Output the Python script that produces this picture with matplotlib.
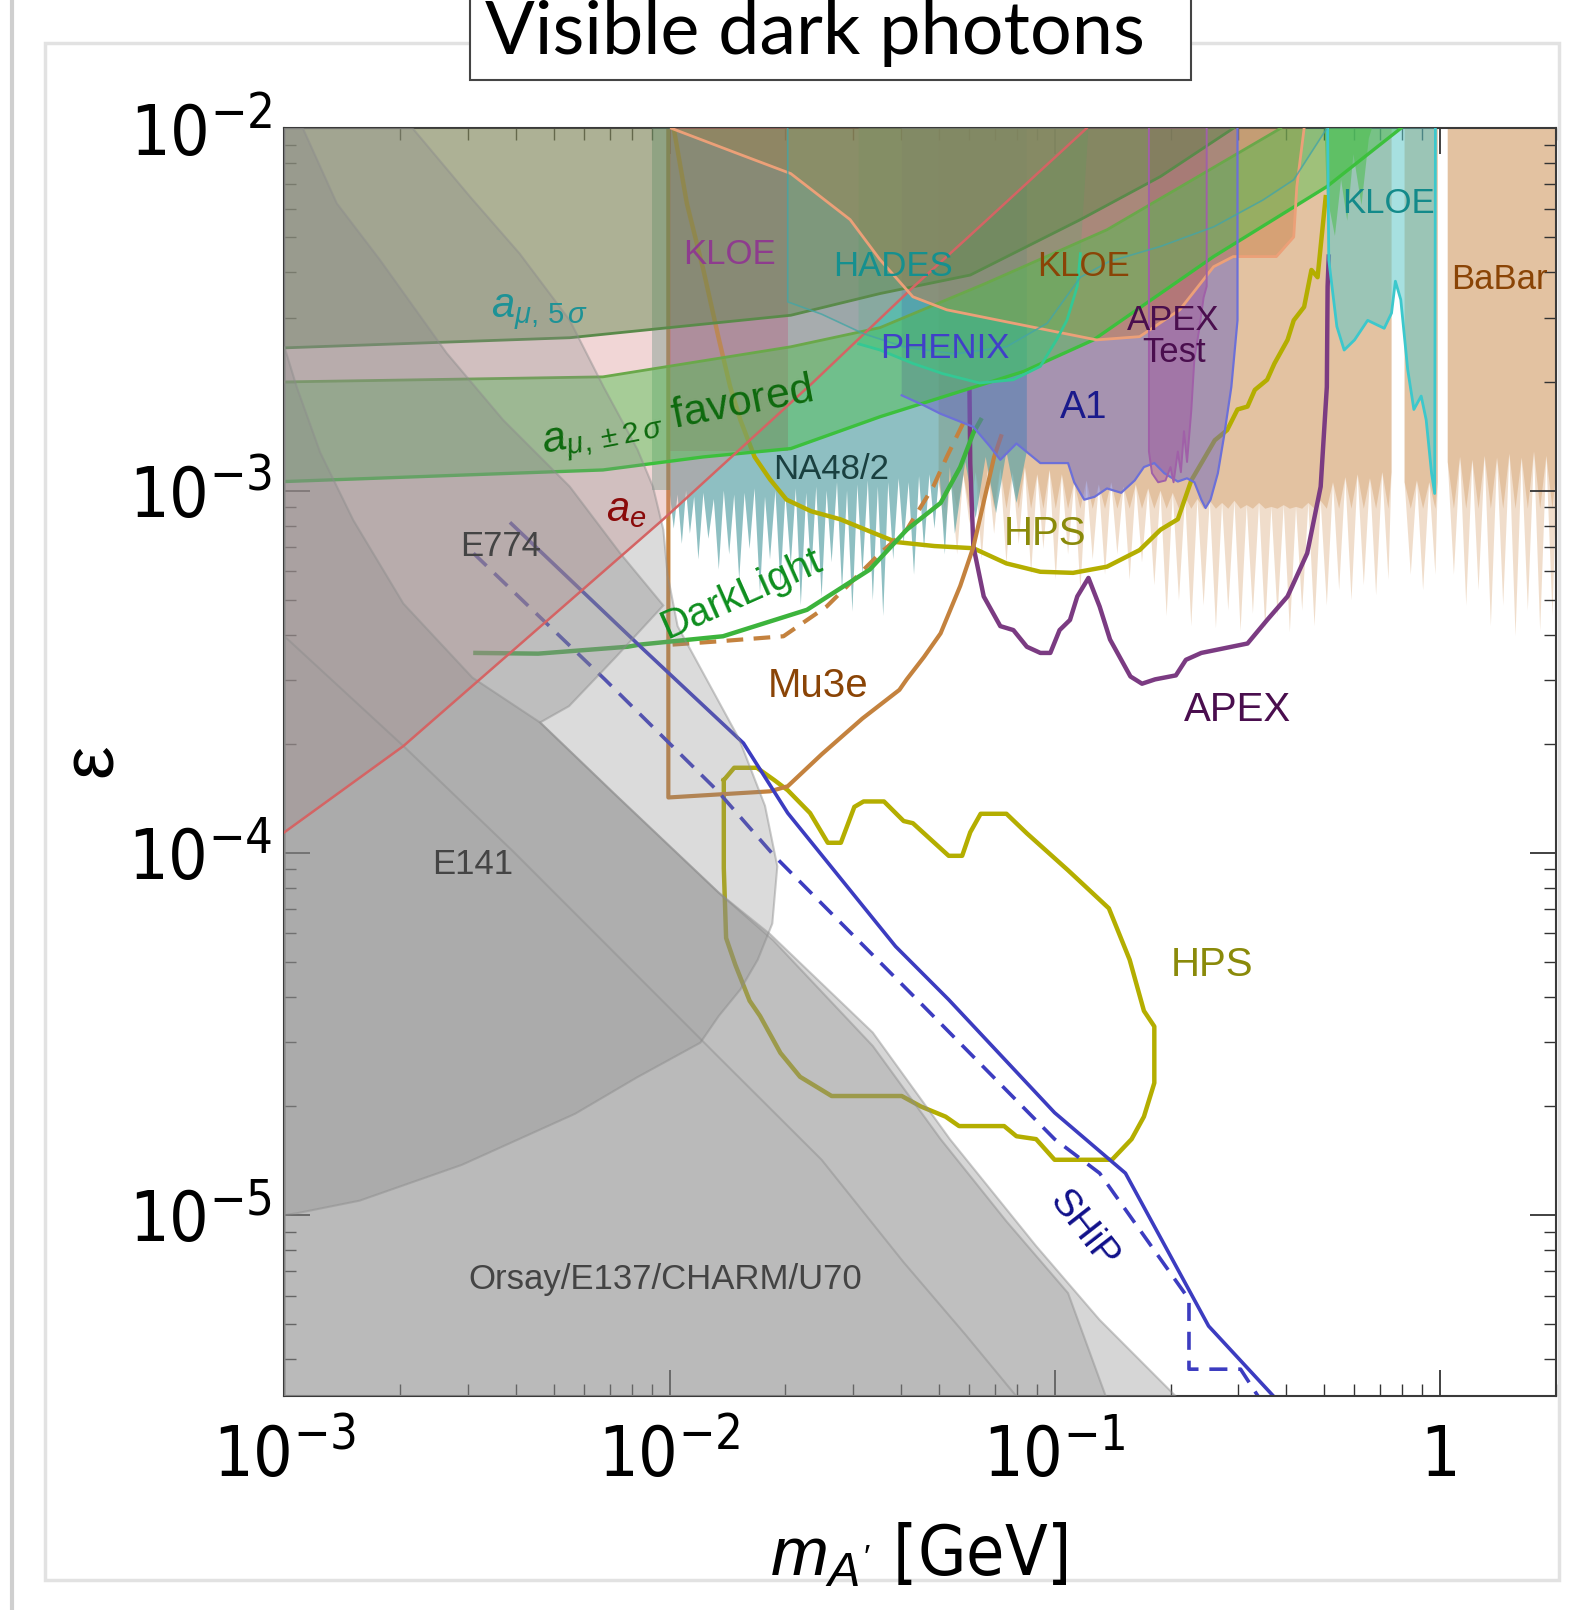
import numpy as np
import matplotlib
matplotlib.use("Agg")
import matplotlib.pyplot as plt
from matplotlib.ticker import LogLocator, NullFormatter
from matplotlib.patches import Rectangle
from matplotlib.lines import Line2D
from matplotlib.font_manager import FontProperties
from matplotlib import font_manager

# all values below are log10(m_A' / GeV) and log10(epsilon)

# a_e exclusion boundary
ae_logm = [-3.000, -2.691, -2.016, -1.629, -1.365, -1.224, -0.917]
ae_loge = [-3.943, -3.705, -3.079, -2.703, -2.436, -2.300, -2.000]

# a_mu 5 sigma and +-2 sigma band
amu5_logm = [-3.000, -2.259, -1.685, -1.453, -1.219, -0.933, -0.725, -0.536]
amu5_loge = [-2.606, -2.578, -2.516, -2.456, -2.405, -2.252, -2.133, -2.000]
amu2hi_logm = [-3.000, -2.173, -1.685, -1.453, -1.179, -0.864, -0.645, -0.413]
amu2hi_loge = [-2.700, -2.686, -2.603, -2.550, -2.428, -2.280, -2.144, -2.000]
amu2lo_logm = [-3.000, -2.173, -1.912, -1.685, -1.453, -1.080, -0.899, -0.587, -0.293, -0.101]
amu2lo_loge = [-2.975, -2.943, -2.907, -2.884, -2.796, -2.671, -2.584, -2.354, -2.161, -2.000]

# KLOE (purple, low mass box)
kloe_p_logm = [-2.000, -1.693]
kloe_p_loge_low = -2.890

# KLOE (brown)
kloe_logm = [-1.995, -1.827, -1.685, -1.531, -1.453, -1.368, -1.280, -1.107, -0.891, -0.779,
             -0.675, -0.587, -0.536, -0.424, -0.379, -0.371, -0.352]
kloe_loge = [-2.000, -2.068, -2.125, -2.252, -2.363, -2.465, -2.501, -2.538, -2.584, -2.575,
             -2.501, -2.382, -2.354, -2.354, -2.300, -2.161, -2.000]

# HADES
hades_logm = [-1.693, -1.693, -1.605, -1.496, -1.392, -1.259, -1.125, -1.019, -0.933, -0.859,
              -0.725, -0.587, -0.459, -0.379, -0.293]
hades_loge = [-2.000, -2.479, -2.513, -2.567, -2.603, -2.623, -2.603, -2.538, -2.411, -2.368,
              -2.326, -2.272, -2.198, -2.142, -2.000]

# PHENIX
phenix_logm = [-1.509, -1.509, -1.453, -1.368, -1.291, -1.195, -1.107, -1.037, -0.995, -0.968,
               -0.941, -0.933, -0.912]
phenix_loge = [-2.000, -2.595, -2.612, -2.649, -2.677, -2.703, -2.694, -2.657, -2.584, -2.530,
               -2.436, -2.346, -2.000]

# A1
a1_logm = [-1.397, -1.397, -1.339, -1.296, -1.211, -1.168, -1.141, -1.099, -1.037, -0.965,
           -0.949, -0.923, -0.896, -0.864, -0.827, -0.792, -0.768, -0.741, -0.715, -0.680,
           -0.656, -0.637, -0.619, -0.608, -0.595, -0.576, -0.560, -0.541, -0.525, -0.525]
a1_loge = [-2.000, -2.737, -2.765, -2.788, -2.824, -2.878, -2.915, -2.870, -2.924, -2.924,
           -2.977, -3.025, -3.017, -2.994, -3.006, -2.972, -2.935, -2.924, -2.952, -2.975,
           -2.966, -2.977, -3.025, -3.048, -3.025, -2.952, -2.850, -2.714, -2.530, -2.000]

# APEX test run
apext_logm = [-0.755, -0.755, -0.747, -0.731, -0.712, -0.699, -0.691, -0.680, -0.672, -0.664,
              -0.656, -0.645, -0.637, -0.624, -0.613, -0.605, -0.605]
apext_loge = [-2.000, -2.892, -2.952, -2.977, -2.972, -2.935, -2.977, -2.892, -2.949, -2.836,
              -2.921, -2.779, -2.637, -2.552, -2.467, -2.436, -2.000]

# KLOE (teal, high mass)
kloe2_logm = [-0.291, -0.288, -0.267, -0.248, -0.221, -0.187, -0.144, -0.125, -0.115, -0.101,
              -0.083, -0.067, -0.048, -0.035, -0.021, -0.013, -0.011]
kloe2_loge = [-2.000, -2.363, -2.547, -2.612, -2.584, -2.530, -2.552, -2.510, -2.422, -2.473,
              -2.666, -2.776, -2.739, -2.805, -2.952, -3.008, -2.000]

# small green patch at the top
green_logm = [-0.299, -0.293, -0.272, -0.256, -0.240, -0.224, -0.203, -0.184, -0.176]
green_loge = [-2.000, -2.184, -2.297, -2.142, -2.255, -2.071, -2.212, -2.028, -2.000]

# narrow strip just below 10 MeV
strip_logm = [-2.045, -2.000]
strip_loge_low = -2.997

# NA48/2 (lower edge, spiky)
na48_logm = [-2.000, -1.989, -1.979, -1.968, -1.957, -1.947, -1.936, -1.925,
             -1.912, -1.899, -1.885, -1.872, -1.859, -1.845, -1.832, -1.819, -1.805, -1.792,
             -1.779, -1.765, -1.752, -1.739, -1.725, -1.712, -1.699, -1.685, -1.672, -1.659,
             -1.645, -1.632, -1.619, -1.605, -1.592, -1.579, -1.565, -1.552, -1.539, -1.525,
             -1.512, -1.499, -1.485, -1.472, -1.459, -1.445, -1.432, -1.419, -1.405, -1.392,
             -1.379, -1.365, -1.352, -1.339, -1.325, -1.312, -1.299, -1.285, -1.272, -1.259,
             -1.232, -1.205, -1.179, -1.152, -1.125, -1.099, -1.072]
na48_loge = [-3.000, -3.105, -3.011, -3.147, -3.000, -3.119, -3.017, -3.190,
             -3.006, -3.133, -3.023, -3.218, -3.000, -3.176, -3.011, -3.246, -3.006, -3.161,
             -2.994, -3.283, -3.017, -3.190, -3.000, -3.261, -3.011, -3.204, -2.994, -3.317,
             -3.006, -3.232, -2.989, -3.295, -3.000, -3.198, -2.977, -3.275, -3.000, -3.334,
             -2.983, -3.232, -2.972, -3.303, -2.989, -3.346, -2.977, -3.190, -2.966, -3.147,
             -2.977, -3.232, -2.960, -3.161, -2.955, -3.105, -2.949, -3.176, -2.935, -3.119,
             -2.921, -3.076, -2.907, -3.062, -2.892, -3.034, -2.892]

# BaBar (three pieces, gaps at omega and phi)
babar_a_logm = [-1.301, -1.285, -1.269, -1.253, -1.237, -1.221, -1.205, -1.189, -1.173, -1.157,
                -1.141, -1.125, -1.109, -1.093, -1.077, -1.061, -1.045, -1.029, -1.013, -0.997,
                -0.981, -0.965, -0.949, -0.933, -0.917, -0.901, -0.885, -0.869, -0.853, -0.837,
                -0.821, -0.805, -0.789, -0.773, -0.757, -0.741, -0.725, -0.709, -0.693, -0.677,
                -0.661, -0.645, -0.629, -0.613, -0.597, -0.581, -0.565, -0.549, -0.533, -0.517,
                -0.501, -0.485, -0.469, -0.453, -0.437, -0.421, -0.405, -0.389, -0.373, -0.357,
                -0.341, -0.325, -0.309, -0.293, -0.277, -0.261, -0.245, -0.229, -0.213, -0.197,
                -0.181, -0.165, -0.149, -0.133, -0.125]
babar_a_loge = [-2.977, -3.119, -2.972, -3.176, -2.955, -3.091, -2.949, -3.190, -2.943, -3.119,
                -2.938, -3.204, -2.949, -3.147, -2.935, -3.232, -2.955, -3.161, -2.943, -3.246,
                -2.955, -3.176, -2.977, -3.275, -2.972, -3.190, -2.983, -3.232, -2.977, -3.176,
                -2.989, -3.246, -2.983, -3.198, -2.994, -3.261, -3.000, -3.346, -3.006, -3.303,
                -3.017, -3.374, -3.023, -3.317, -3.028, -3.380, -3.034, -3.331, -3.028, -3.388,
                -3.040, -3.340, -3.034, -3.380, -3.045, -3.346, -3.040, -3.391, -3.045, -3.331,
                -3.034, -3.374, -3.028, -3.317, -2.977, -3.275, -2.963, -3.303, -2.955, -3.261,
                -2.966, -3.289, -2.949, -3.246, -2.949]
babar_b_logm = [-0.091, -0.075, -0.059, -0.043, -0.027, -0.011, -0.005]
babar_b_loge = [-2.977, -3.232, -2.972, -3.275, -2.977, -3.232, -2.977]
babar_c_logm = [0.021, 0.037, 0.053, 0.069, 0.085, 0.101, 0.117, 0.133, 0.149, 0.165,
                0.181, 0.197, 0.213, 0.229, 0.245, 0.261, 0.277, 0.293, 0.305]
babar_c_loge = [-2.921, -3.232, -2.907, -3.317, -2.915, -3.275, -2.904, -3.374, -2.909, -3.317,
                -2.898, -3.402, -2.909, -3.331, -2.892, -3.388, -2.904, -3.346, -2.921]

# projections (lines)
hps_logm = [-1.989, -1.955, -1.912, -1.872, -1.843, -1.816, -1.779, -1.739, -1.696, -1.632,
            -1.557, -1.472, -1.411, -1.312, -1.211, -1.125, -1.037, -0.952, -0.864, -0.779,
            -0.725, -0.680, -0.645, -0.584, -0.552, -0.525, -0.499, -0.480, -0.448, -0.429,
            -0.395, -0.379, -0.352, -0.333, -0.317, -0.309, -0.296]
hps_loge = [-2.000, -2.207, -2.391, -2.581, -2.711, -2.805, -2.907, -2.969, -3.025, -3.057,
            -3.079, -3.116, -3.142, -3.153, -3.159, -3.201, -3.224, -3.227, -3.210, -3.164,
            -3.108, -3.079, -2.972, -2.861, -2.833, -2.776, -2.768, -2.722, -2.694, -2.649,
            -2.584, -2.530, -2.493, -2.391, -2.411, -2.326, -2.190]
hps_isl_logm = [-1.859, -1.832, -1.773, -1.728, -1.693, -1.635, -1.589, -1.555, -1.520, -1.496,
                -1.443, -1.392, -1.368, -1.275, -1.240, -1.219, -1.192, -1.125, -1.072, -0.965,
                -0.859, -0.805, -0.768, -0.741, -0.741, -0.768, -0.800, -0.851, -1.000, -1.048,
                -1.099, -1.131, -1.248, -1.283, -1.347, -1.397, -1.579, -1.661, -1.712, -1.765,
                -1.792, -1.829, -1.853, -1.859, -1.859]
hps_isl_loge = [-3.799, -3.765, -3.765, -3.799, -3.827, -3.890, -3.972, -3.972, -3.873, -3.858,
                -3.858, -3.912, -3.918, -4.008, -4.008, -3.943, -3.892, -3.892, -3.946, -4.048,
                -4.153, -4.295, -4.436, -4.479, -4.635, -4.728, -4.790, -4.847, -4.847, -4.790,
                -4.782, -4.754, -4.754, -4.728, -4.700, -4.671, -4.671, -4.618, -4.552, -4.450,
                -4.408, -4.309, -4.235, -4.042, -3.799]
apex_logm = [-1.221, -1.219, -1.211, -1.184, -1.141, -1.107, -1.072, -1.037, -1.011, -0.987,
             -0.960, -0.941, -0.912, -0.883, -0.856, -0.803, -0.773, -0.739, -0.685, -0.659,
             -0.619, -0.499, -0.448, -0.395, -0.344, -0.309, -0.293, -0.291, -0.288]
apex_loge = [-2.722, -2.924, -3.153, -3.292, -3.374, -3.385, -3.431, -3.448, -3.448, -3.385,
             -3.357, -3.292, -3.241, -3.320, -3.411, -3.513, -3.533, -3.521, -3.510, -3.467,
             -3.448, -3.422, -3.357, -3.292, -3.173, -2.989, -2.714, -2.436, -2.354]
mu3e_logm = [-2.003, -2.003, -2.003, -1.739, -1.693, -1.605, -1.499, -1.403, -1.384, -1.339,
             -1.296, -1.245, -1.211, -1.157, -1.139]
mu3e_loge = [-2.000, -3.006, -3.847, -3.830, -3.816, -3.728, -3.629, -3.550, -3.521, -3.459,
             -3.394, -3.263, -3.156, -2.907, -2.850]
mu3e_dash_logm = [-1.992, -1.872, -1.704, -1.592, -1.453, -1.384, -1.315, -1.280, -1.237]
mu3e_dash_loge = [-3.425, -3.416, -3.402, -3.320, -3.173, -3.108, -2.989, -2.907, -2.813]
darklight_logm = [-2.504, -2.341, -2.109, -2.077, -1.861, -1.643, -1.480, -1.384, -1.296, -1.245,
                  -1.211, -1.192]
darklight_loge = [-3.448, -3.450, -3.431, -3.425, -3.402, -3.329, -3.218, -3.108, -3.034, -2.935,
                  -2.841, -2.805]
ship_logm = [-2.411, -2.075, -1.808, -1.693, -1.413, -1.275, -1.000, -0.816, -0.600, -0.432]
ship_loge = [-3.091, -3.431, -3.697, -3.890, -4.258, -4.405, -4.717, -4.884, -5.306, -5.499]
ship_dash_logm = [-2.509, -2.168, -1.877, -1.728, -1.357, -1.000, -0.883, -0.651, -0.651, -0.517, -0.472]
ship_dash_loge = [-3.173, -3.521, -3.827, -4.008, -4.405, -4.790, -4.884, -5.232, -5.425, -5.425, -5.499]

# beam dump / fixed target regions (grey)
e141_logm = [-3.000, -2.667, -2.517, -2.389, -2.259, -2.171, -2.083, -2.043, -2.016, -2.005,
             -1.979, -1.899, -1.819, -1.752, -1.720, -1.733, -1.771, -1.816, -1.872, -1.920,
             -2.085, -2.245, -2.539, -2.805, -2.965, -3.000]
e141_loge = [-2.000, -2.000, -2.190, -2.346, -2.530, -2.714, -2.887, -2.989, -3.108, -3.232,
             -3.374, -3.530, -3.686, -3.870, -4.037, -4.195, -4.295, -4.377, -4.450, -4.524,
             -4.620, -4.720, -4.861, -4.960, -4.994, -5.000]
dump_logm = [-3.000, -2.952, -2.864, -2.752, -2.579, -2.432, -2.259, -2.128, -2.016, -2.139,
             -2.261, -2.336, -2.139, -1.872, -1.739, -1.472, -1.272, -1.048, -0.883, -0.685, -3.000]
dump_loge = [-2.000, -2.000, -2.207, -2.363, -2.620, -2.805, -2.989, -3.173, -3.317, -3.459,
             -3.595, -3.640, -3.841, -4.110, -4.224, -4.496, -4.790, -5.085, -5.289, -5.500, -5.500]
e774_logm = [-3.000, -2.968, -2.907, -2.821, -2.691, -2.512, -2.336, -2.139, -1.872, -1.731,
             -1.472, -1.296, -1.125, -0.965, -0.867, -3.000]
e774_loge = [-2.603, -2.714, -2.895, -3.082, -3.312, -3.516, -3.640, -3.841, -4.110, -4.241,
             -4.533, -4.790, -5.017, -5.215, -5.500, -5.500]
e137_logm = [-3.000, -2.691, -2.405, -2.139, -1.872, -1.605, -1.392, -1.232, -1.099, -3.000]
e137_loge = [-3.402, -3.705, -3.997, -4.280, -4.564, -4.847, -5.130, -5.329, -5.500, -5.500]


def P(a):
    return 10.0 ** np.asarray(a, dtype=float)


def closed_top(lm, le):
    # close a lower boundary up to the top of the plot
    return P([lm[0]] + list(lm) + [lm[-1]]), P([-2.0] + list(le) + [-2.0])


def find_condensed():
    for f in font_manager.fontManager.ttflist:
        nm = f.name.lower()
        if f.style != "normal" or str(f.weight) not in ("400", "normal", "regular"):
            continue
        if "mono" in nm or "serif" in nm or "cjk" in nm:
            continue
        if "narrow" in nm or "condensed" in nm or "condensed" in str(f.stretch).lower():
            return f.fname
    return None


cond_path = find_condensed()


def tick_font(size):
    if cond_path:
        return FontProperties(fname=cond_path, size=size)
    return FontProperties(family="Liberation Sans", size=size)


plt.rcParams["font.family"] = ["Liberation Sans", "DejaVu Sans"]
plt.rcParams["mathtext.fontset"] = "custom"
plt.rcParams["mathtext.rm"] = "Liberation Sans"
plt.rcParams["mathtext.it"] = "Liberation Sans:italic"
plt.rcParams["mathtext.bf"] = "Liberation Sans:bold"
plt.rcParams["mathtext.default"] = "regular"

fig = plt.figure(figsize=(15.74, 16.10), dpi=100)
ax = fig.add_axes([0.1807, 0.1327, 0.8076, 0.7876])
ax.set_xscale("log")
ax.set_yscale("log")
ax.set_xlim(1e-3, 2.0)
ax.set_ylim(10 ** -5.5, 1e-2)
TOP = 1e-2

# BaBar: solid core plus lighter spikes
for lm, le in [(babar_a_logm, babar_a_loge), (babar_b_logm, babar_b_loge), (babar_c_logm, babar_c_loge)]:
    m, e = closed_top(lm, le)
    ax.fill(m, e, color="#d8a878", alpha=0.38, lw=0, zorder=1)
    m, e = closed_top(lm, np.maximum(le, -3.05))
    ax.fill(m, e, color="#d8a878", alpha=0.5, lw=0, zorder=1)

m, e = closed_top(na48_logm, na48_loge)
ax.fill(m, e, color="#5fa5a8", alpha=0.7, lw=0, zorder=1.1)

# projected sensitivities
ax.plot(P(hps_logm), P(hps_loge), color="#b4ae00", lw=3.2, zorder=2)
ax.plot(P(hps_isl_logm), P(hps_isl_loge), color="#b4ae00", lw=3.2, zorder=2)
ax.plot(P(apex_logm), P(apex_loge), color="#7b3b82", lw=3.2, zorder=2)
ax.plot(P(mu3e_logm), P(mu3e_loge), color="#c4823e", lw=3.0, zorder=2)
ax.plot(P(mu3e_dash_logm), P(mu3e_dash_loge), color="#c4823e", lw=3.0, ls=(0, (4, 2.5)), zorder=2)
ax.plot(P(darklight_logm), P(darklight_loge), color="#3cb43c", lw=3.2, zorder=2)
ax.plot(P(ship_logm), P(ship_loge), color="#3c3cc0", lw=2.6, zorder=2)
ax.plot(P(ship_dash_logm), P(ship_dash_loge), color="#3c3cc0", lw=2.6, ls=(0, (5, 3)), zorder=2)

# existing limits
ax.fill(P(kloe2_logm), P(kloe2_loge), color="#60c8c8", alpha=0.55, lw=0, zorder=3)
ax.fill(P(green_logm), P(green_loge), color="#4cbc4c", alpha=0.55, lw=0, zorder=3)
ax.fill_between(P(kloe_p_logm), 10 ** kloe_p_loge_low, TOP, color="#a65a84", alpha=0.45, lw=0, zorder=3.05)
ax.fill(P(a1_logm), P(a1_loge), color="#6a66c0", alpha=0.5, lw=0, zorder=3.1)
ax.fill(P(apext_logm), P(apext_loge), color="#a05aa0", alpha=0.5, lw=0, zorder=3.2)
ax.fill(P(phenix_logm), P(phenix_loge), color="#2ec89c", alpha=0.4, lw=0, zorder=3.3)
ax.fill(P(hades_logm), P(hades_loge), color="#3a9a9a", alpha=0.2, lw=0, zorder=3.4)
ax.fill(P(kloe_logm), P(kloe_loge), color="#c87a40", alpha=0.45, lw=0, zorder=3.5)
ax.fill_between(P(ae_logm), P(ae_loge), TOP, color="#d88a8a", alpha=0.35, lw=0, zorder=3.6)
ax.fill_between(P(strip_logm), 10 ** strip_loge_low, TOP, color="#5a8a7a", alpha=0.35, lw=0, zorder=3.7)
ax.fill_between(P(amu5_logm), P(amu5_loge), TOP, color="#5b8646", alpha=0.45, lw=0, zorder=3.8)
g = np.linspace(-3.0, amu2lo_logm[-1], 400)
ax.fill_between(P(g), P(np.interp(g, amu2lo_logm, amu2lo_loge)), P(np.interp(g, amu2hi_logm, amu2hi_loge)),
                color="#4cc04c", alpha=0.45, lw=0, zorder=3.9)
ax.plot(P(amu5_logm), P(amu5_loge), color="#5a8a4a", lw=2.0, zorder=3.95)
ax.plot(P(amu2hi_logm), P(amu2hi_loge), color="#6aa84a", lw=2.0, zorder=3.95)
ax.plot(P(amu2lo_logm), P(amu2lo_loge), color="#3cc03c", lw=2.4, zorder=3.95)

for lm, le, a in [(e141_logm, e141_loge, 0.30), (dump_logm, dump_loge, 0.35),
                  (e774_logm, e774_loge, 0.30), (e137_logm, e137_loge, 0.08)]:
    ax.fill(P(lm), P(le), fc=(0.54, 0.54, 0.54, a), ec=(0.55, 0.55, 0.55, 0.45), lw=1.5, zorder=4)

# boundary lines drawn over everything
ax.plot(P(ae_logm), P(ae_loge), color="#d46464", lw=1.8, zorder=5)
ax.plot(P(kloe_logm), P(kloe_loge), color="#eca078", lw=2.0, zorder=5)
ax.plot(P(phenix_logm[1:-1]), P(phenix_loge[1:-1]), color="#34c894", lw=2.0, zorder=5)
ax.plot(P(a1_logm[1:]), P(a1_loge[1:]), color="#6c70d8", lw=1.6, zorder=5)
ax.plot(P(kloe2_logm), P(kloe2_loge), color="#3cc8cc", lw=2.0, zorder=5)
ax.plot(P(apext_logm), P(apext_loge), color="#a060a8", lw=1.4, zorder=5)
ax.plot(P(hades_logm), P(hades_loge), color="#45a5a5", lw=1.2, alpha=0.8, zorder=5)


def lab(s, lm, le, color, size=25, rot=0, **kw):
    ax.text(10 ** lm, 10 ** le, s, color=color, fontsize=size, rotation=rot,
            ha="center", va="center", zorder=6, rotation_mode="anchor", **kw)


lab("KLOE", -1.845, -2.348, "#8e3c8e")
lab("HADES", -1.419, -2.382, "#15908f")
lab("KLOE", -0.925, -2.382, "#8a4406")
lab(r"$\mathit{a}_{\mathit{\mu},\,5\,\mathit{\sigma}}$", -2.339, -2.510, "#1e9296", size=30)
lab("PHENIX", -1.285, -2.609, "#4040c8")
lab("APEX\nTest", -0.691, -2.575, "#4a0e4e", linespacing=0.95)
lab(r"$\mathit{a}_{\mathit{\mu},\pm2\,\mathit{\sigma}}$ favored", -1.979, -2.802, "#0e6a0e", size=31, rot=11)
lab("A1", -0.925, -2.771, "#1a1a8c", size=28)
lab("NA48/2", -1.579, -2.943, "#1a4040")
lab(r"$\mathit{a}_{\mathit{e}}$", -2.112, -3.054, "#8a0a0a", size=30)
lab("E774", -2.440, -3.153, "#444444")
lab("HPS", -1.024, -3.119, "#8a8a0a", size=29)
lab("DarkLight", -1.813, -3.283, "#0e8e1e", size=29, rot=24)
lab("Mu3e", -1.613, -3.538, "#8a4406", size=29)
lab("APEX", -0.525, -3.606, "#4a0e4e", size=29)
lab("E141", -2.512, -4.031, "#444444")
lab("HPS", -0.592, -4.309, "#8a8a0a", size=29)
lab("SHiP", -0.925, -5.040, "#10108a", size=28, rot=-52)
lab("Orsay/E137/CHARM/U70", -2.011, -5.178, "#444444")
lab("KLOE", -0.133, -2.207, "#138a8a")
lab("BaBar", 0.155, -2.416, "#8a4406")

# axes, ticks
ax.set_xticks([1e-3, 1e-2, 1e-1, 1.0])
ax.set_xticklabels([r"$10^{-3}$", r"$10^{-2}$", r"$10^{-1}$", "1"], fontproperties=tick_font(50))
ax.set_yticks([1e-5, 1e-4, 1e-3, 1e-2])
ax.set_yticklabels([r"$10^{-5}$", r"$10^{-4}$", r"$10^{-3}$", r"$10^{-2}$"], fontproperties=tick_font(50))
for axis in (ax.xaxis, ax.yaxis):
    axis.set_minor_locator(LogLocator(base=10, subs=np.arange(2, 10), numticks=20))
    axis.set_minor_formatter(NullFormatter())
ax.tick_params(which="major", direction="in", length=19, width=1.3, top=True, right=True, color="#333333")
ax.tick_params(which="minor", direction="in", length=8.5, width=1.0, top=True, right=True, color="#333333")
ax.tick_params(axis="x", which="major", pad=19)
ax.tick_params(axis="y", which="major", pad=9)
for sp in ax.spines.values():
    sp.set_linewidth(1.5)
    sp.set_color("#3a3a3a")

fig.text(0.584, 0.034, r"$\mathit{m}_{\mathit{A'}}$ [GeV]", fontproperties=tick_font(50),
         ha="center", va="center")
fig.text(0.0587, 0.528, "ε", fontsize=54, rotation=90, ha="center", va="center")

# panel frame and title box
fig.add_artist(Line2D([12 / 1574, 12 / 1574], [0, 1], transform=fig.transFigure, color="#cfcfcf", lw=3))
fig.add_artist(Rectangle((45 / 1574, 30 / 1610), 1514 / 1574, 1537 / 1610, transform=fig.transFigure,
                         fc="none", ec="#e2e2e2", lw=2.5))
fig.add_artist(Rectangle((0.2986, 0.9503), 0.458, 0.08, transform=fig.transFigure,
                         fc="white", ec="#444444", lw=1.5, zorder=9))
fig.text(0.3079, 0.9665, "Visible dark photons", fontsize=53, fontfamily=["Lato", "DejaVu Sans"],
         ha="left", va="baseline", zorder=10)

fig.savefig("out.png", dpi=100)
